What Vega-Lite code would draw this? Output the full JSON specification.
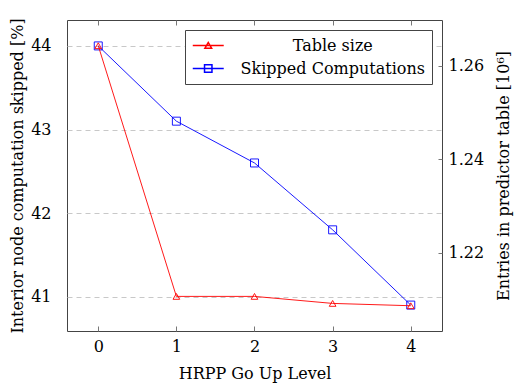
{
  "$schema": "https://vega.github.io/schema/vega-lite/v6.json",
  "width": 375,
  "height": 311,
  "autosize": {"type": "none"},
  "padding": {"left": 67, "top": 20, "right": 81, "bottom": 55},
  "data": {
    "values": [
      {"level": 0, "series": "Skipped Computations", "value": 44.0},
      {"level": 1, "series": "Skipped Computations", "value": 43.1},
      {"level": 2, "series": "Skipped Computations", "value": 42.6},
      {"level": 3, "series": "Skipped Computations", "value": 41.8},
      {"level": 4, "series": "Skipped Computations", "value": 40.9},
      {"level": 0, "series": "Table size", "value": 1.2643},
      {"level": 1, "series": "Table size", "value": 1.2107},
      {"level": 2, "series": "Table size", "value": 1.2107},
      {"level": 3, "series": "Table size", "value": 1.2092},
      {"level": 4, "series": "Table size", "value": 1.2087}
    ]
  },
  "layer": [
    {
      "transform": [{"filter": "datum.series === 'Skipped Computations'"}],
      "encoding": {
        "x": {
          "field": "level", "type": "quantitative",
          "scale": {"domain": [-0.4, 4.4], "nice": false, "zero": false},
          "axis": {"orient": "bottom", "values": [0, 1, 2, 3, 4], "format": "d", "title": "HRPP Go Up Level", "grid": false, "tickSize": -5, "labelPadding": 12, "titlePadding": 11}
        },
        "y": {
          "field": "value", "type": "quantitative",
          "scale": {"domain": [40.59, 44.31], "nice": false, "zero": false},
          "axis": {"orient": "left", "values": [41, 42, 43, 44], "format": "d", "title": "Interior node computation skipped [%]", "grid": true, "ticks": false, "tickSize": 0, "labelPadding": 16, "titlePadding": 5}
        },
        "color": {
          "field": "series", "type": "nominal",
          "scale": {"domain": ["Table size", "Skipped Computations"], "range": ["#ff0000", "#0000ff"]},
          "legend": {"title": null}
        }
      },
      "layer": [
        {"mark": {"type": "line", "strokeWidth": 0.9}},
        {"mark": {"type": "point", "filled": false, "size": 64, "strokeWidth": 0.9, "opacity": 1, "shape": "square"}}
      ]
    },
    {
      "transform": [{"filter": "datum.series === 'Table size'"}],
      "encoding": {
        "x": {
          "field": "level", "type": "quantitative",
          "scale": {"domain": [-0.4, 4.4], "nice": false, "zero": false},
          "axis": {"orient": "top", "values": [0, 1, 2, 3, 4], "labels": false, "title": null, "grid": false, "tickSize": -5}
        },
        "y": {
          "field": "value", "type": "quantitative",
          "scale": {"domain": [1.2033, 1.2698], "nice": false, "zero": false},
          "axis": {"orient": "right", "values": [1.22, 1.24, 1.26], "format": ".2f", "title": "Entries in predictor table [10⁶]", "titleAngle": 270, "grid": false, "tickSize": -4, "labelPadding": 10, "titlePadding": 28}
        },
        "color": {
          "field": "series", "type": "nominal",
          "scale": {"domain": ["Table size", "Skipped Computations"], "range": ["#ff0000", "#0000ff"]},
          "legend": {"title": null}
        }
      },
      "layer": [
        {"mark": {"type": "line", "strokeWidth": 0.9}},
        {"mark": {"type": "point", "filled": false, "size": 45, "strokeWidth": 0.9, "opacity": 1, "shape": "triangle-up"}}
      ]
    },
    {
      "transform": [{"filter": "false"}],
      "mark": {"type": "point", "filled": false, "size": 240, "strokeWidth": 0.9, "opacity": 1},
      "encoding": {
        "color": {
          "field": "series", "type": "nominal",
          "scale": {"domain": ["Table size", "Skipped Computations"], "range": ["#ff0000", "#0000ff"]},
          "legend": {"title": null}
        },
        "shape": {
          "field": "series", "type": "nominal",
          "scale": {"domain": ["Table size", "Skipped Computations"], "range": ["M-2,0H2M-0.44,0.37L0,-0.4L0.44,0.37Z", "M-2,0H2M-0.48,-0.48H0.48V0.48H-0.48Z"]},
          "legend": {"title": null}
        }
      }
    }
  ],
  "resolve": {"scale": {"y": "independent"}, "axis": {"x": "independent", "y": "independent"}},
  "config": {
    "font": "DejaVu Serif",
    "view": {"stroke": "#444444", "strokeWidth": 1},
    "axis": {
      "labelFont": "DejaVu Serif", "titleFont": "DejaVu Serif",
      "labelFontSize": 16, "titleFontSize": 16, "titleFontWeight": "normal",
      "labelColor": "#000000", "titleColor": "#000000",
      "domain": false, "tickColor": "#777777", "tickWidth": 1,
      "gridColor": "#c8c8c8", "gridDash": [5, 4], "gridWidth": 1
    },
    "legend": {
      "orient": "top-right", "offset": 10, "padding": 7,
      "strokeColor": "#444444", "fillColor": "#ffffff",
      "labelFont": "DejaVu Serif", "labelFontSize": 16, "labelColor": "#000000",
      "labelAlign": "center", "labelOffset": 116, "labelLimit": 400,
      "symbolSize": 240, "symbolOffset": 7.75, "rowPadding": 6
    }
  }
}
